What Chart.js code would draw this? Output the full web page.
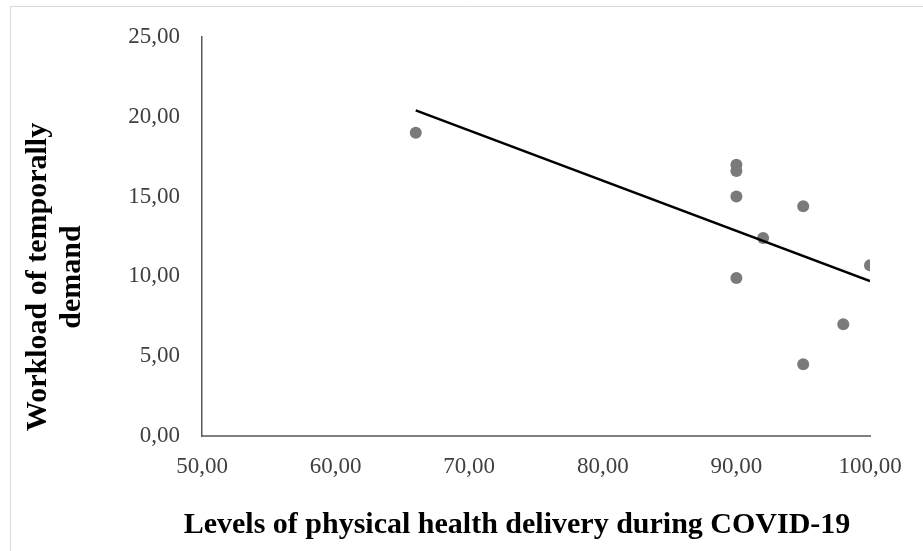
<!DOCTYPE html>
<html>
<head>
<meta charset="utf-8">
<script src="https://cdn.jsdelivr.net/npm/chart.js@4"></script>
<style>
  html, body { margin: 0; padding: 0; background: #ffffff; }
  #wrap { width: 923px; height: 551px; position: relative; }
</style>
</head>
<body>
<div id="wrap"><canvas id="c" width="923" height="551"></canvas></div>
<script>
// Observations: physical health delivery level vs. temporal-demand workload
const healthDelivery = [66, 90, 90, 90, 95, 92, 90, 100, 98, 95];
const workload = [19.0, 17.0, 16.6, 15.0, 14.4, 12.4, 9.9, 10.7, 7.0, 4.5];

// Linear trend line end points
const trendX = [66, 100];
const trendY = [20.4, 9.7];

// Axis ranges and tick steps
const xRange = [50, 100, 10];
const yRange = [0, 25, 5];

const xTitle = 'Levels of physical health delivery during COVID-19';
const yTitleLines = ['Workload of temporally', 'demand'];

const fmt = v => v.toFixed(2).replace('.', ',');
const serif = '"Liberation Serif", "Times New Roman", serif';

const titles = {
  id: 'axisTitles',
  beforeDraw(chart) {
    const ctx = chart.ctx;
    ctx.save();
    ctx.strokeStyle = '#d9d9d9';
    ctx.lineWidth = 1;
    ctx.beginPath();
    ctx.moveTo(10.5, 560);
    ctx.lineTo(10.5, 6.5);
    ctx.lineTo(930, 6.5);
    ctx.stroke();
    ctx.restore();
  },
  afterDraw(chart) {
    const ctx = chart.ctx;
    ctx.save();
    ctx.fillStyle = '#000000';
    ctx.font = 'bold 30px ' + serif;
    ctx.textAlign = 'center';
    ctx.textBaseline = 'alphabetic';
    ctx.fillText(xTitle, 517, 533);
    ctx.translate(0, 277);
    ctx.rotate(-Math.PI / 2);
    ctx.textBaseline = 'middle';
    ctx.fillText(yTitleLines[0], 0, 38);
    ctx.fillText(yTitleLines[1], 0, 72);
    ctx.restore();
  }
};

new Chart(document.getElementById('c'), {
  type: 'scatter',
  data: {
    datasets: [
      {
        label: 'Observations',
        data: healthDelivery.map((x, i) => ({ x, y: workload[i] })),
        backgroundColor: '#7a7a7a',
        borderColor: '#7a7a7a',
        pointRadius: 6,
        pointHoverRadius: 6,
        borderWidth: 0,
        order: 2
      },
      {
        label: 'Linear trend',
        type: 'line',
        data: trendX.map((x, i) => ({ x, y: trendY[i] })),
        borderColor: '#000000',
        borderWidth: 2.5,
        pointRadius: 0,
        fill: false,
        order: 1
      }
    ]
  },
  options: {
    responsive: false,
    animation: false,
    events: [],
    layout: { padding: { top: 37, right: 53, left: 0, bottom: 0 } },
    plugins: {
      legend: { display: false },
      tooltip: { enabled: false }
    },
    scales: {
      x: {
        type: 'linear',
        min: xRange[0],
        max: xRange[1],
        afterFit: s => { s.height = 115; },
        ticks: {
          stepSize: xRange[2],
          callback: v => fmt(v),
          color: '#404040',
          font: { family: serif, size: 23 },
          padding: 17,
          maxRotation: 0
        },
        grid: { display: false, drawTicks: false },
        border: { display: true, color: '#808080', width: 2 }
      },
      y: {
        type: 'linear',
        min: yRange[0],
        max: yRange[1],
        afterFit: s => { s.width = 202; },
        ticks: {
          stepSize: yRange[2],
          callback: v => fmt(v),
          color: '#404040',
          font: { family: serif, size: 23 },
          padding: 22
        },
        grid: { display: false, drawTicks: false },
        border: { display: true, color: '#595959', width: 1.5 }
      }
    }
  },
  plugins: [titles]
});
</script>
</body>
</html>
